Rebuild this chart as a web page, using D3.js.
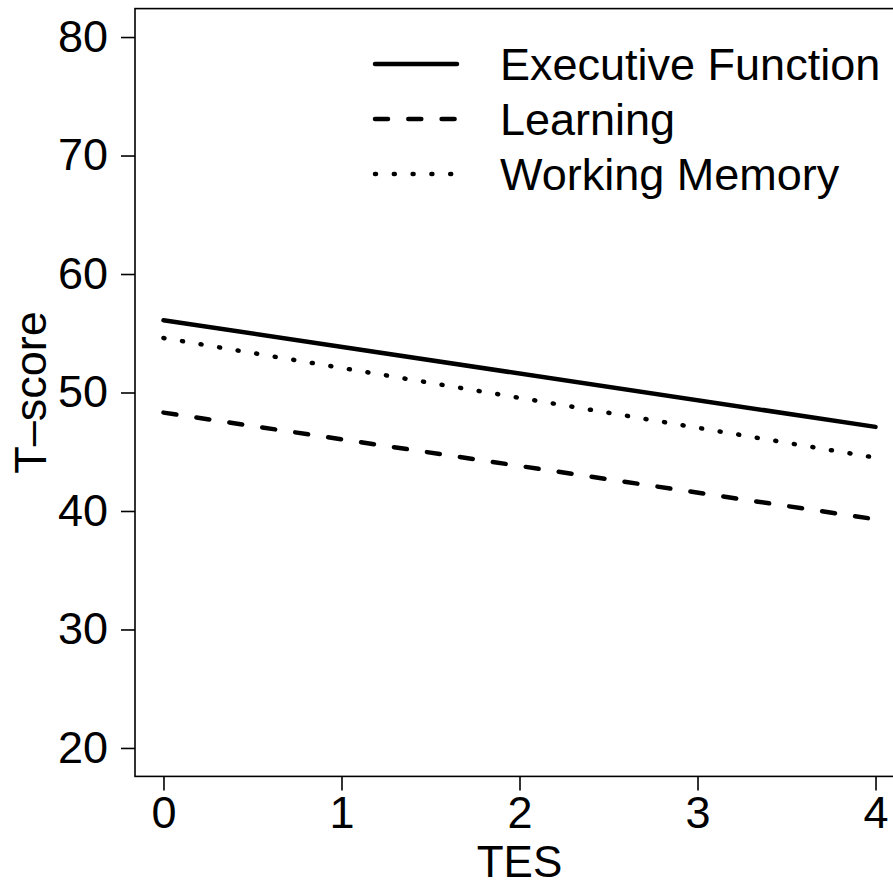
<!DOCTYPE html>
<html><head><meta charset="utf-8">
<script src="https://cdn.jsdelivr.net/npm/d3@7"></script>
<style>body{margin:0;background:#fff}svg{display:block}text{font-family:"Liberation Sans",Arial,sans-serif;fill:#000}</style>
</head><body>
<script>
const tes = [0, 4];
const execFunction = [56.1, 47.1];
const learning = [48.3, 39.3];
const workingMemory = [54.6, 44.5];
const seriesNames = ["Executive Function", "Learning", "Working Memory"];
const xTicks = [0, 1, 2, 3, 4];
const yTicks = [20, 30, 40, 50, 60, 70, 80];

const W = 893, H = 888;
const svg = d3.select("body").append("svg").attr("width", W).attr("height", H);
const x = d3.scaleLinear().domain([-0.16, 4.16]).range([135, 904]);
const y = d3.scaleLinear().domain([17.6, 82.4]).range([776.4, 8.6]);
const fs = 45;

// box
svg.append("rect").attr("x", x(-0.16)).attr("y", y(82.4))
  .attr("width", x(4.16) - x(-0.16)).attr("height", y(17.6) - y(82.4))
  .attr("fill", "none").attr("stroke", "#000").attr("stroke-width", 1.6);

// axes
const yAxis = d3.axisLeft(y).tickValues(yTicks).tickSize(14).tickPadding(13).tickFormat(d3.format("d"));
const gy = svg.append("g").attr("transform", `translate(${x(-0.16)},0)`).call(yAxis);
const xAxis = d3.axisBottom(x).tickValues(xTicks).tickSize(14).tickPadding(4).tickFormat(d3.format("d"));
const gx = svg.append("g").attr("transform", `translate(0,${y(17.6)})`).call(xAxis);
[gy, gx].forEach(g => {
  g.select(".domain").remove();
  g.selectAll(".tick line").attr("stroke", "#000").attr("stroke-width", 1.6);
  g.selectAll(".tick text").style("font-size", fs + "px").attr("font-family", null);
});
gx.selectAll(".tick text").attr("dy", "0.74em");

// axis titles
svg.append("text").attr("x", x(2)).attr("y", 877).attr("text-anchor", "middle")
  .style("font-size", "44px").text("TES");
svg.append("text").attr("transform", `translate(46,${y(50)}) rotate(-90)`).attr("text-anchor", "middle")
  .style("font-size", fs + "px").text("T–score");

const styles = [
  {dash: null, data: execFunction},
  {dash: "13,20.3", data: learning},
  {dash: "1,17.8", data: workingMemory}
];
const line = d3.line().x(d => x(d[0])).y(d => y(d[1]));
styles.forEach(s => {
  svg.append("path").datum(tes.map((t, i) => [t, s.data[i]]))
    .attr("d", line).attr("fill", "none").attr("stroke", "#000")
    .attr("stroke-width", 4.5).attr("stroke-linecap", "round")
    .attr("stroke-dasharray", s.dash);
});

// legend
const lg = svg.append("g");
seriesNames.forEach((n, i) => {
  const ly = 64 + i * 55;
  lg.append("line").attr("x1", 375).attr("x2", 457).attr("y1", ly).attr("y2", ly)
    .attr("stroke", "#000").attr("stroke-width", 4.5).attr("stroke-linecap", "round")
    .attr("stroke-dasharray", styles[i].dash);
  lg.append("text").attr("x", 500).attr("y", ly).attr("dy", "0.36em")
    .style("font-size", fs + "px").text(n);
});
</script>
</body></html>
